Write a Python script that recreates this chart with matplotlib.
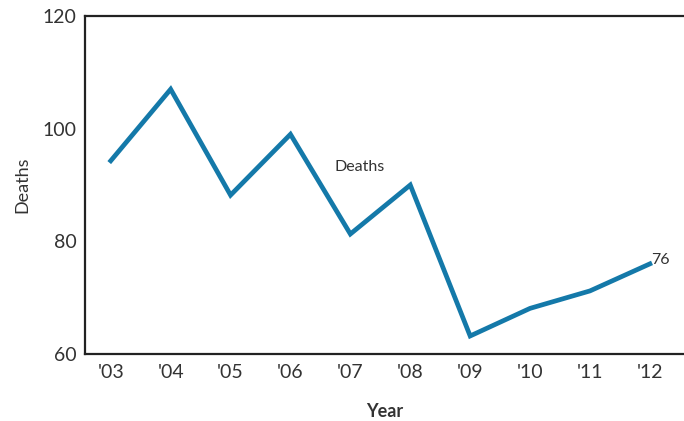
import matplotlib
matplotlib.use("Agg")
import matplotlib.pyplot as plt

years = ["'03", "'04", "'05", "'06", "'07", "'08", "'09", "'10", "'11", "'12"]
deaths = [94.3, 107.0, 88.2, 99.0, 81.3, 90.0, 63.2, 68.1, 71.2, 76]
y_ticks = [60, 80, 100, 120]

plt.rcParams['font.family'] = ['Lato', 'DejaVu Sans']

fig = plt.figure(figsize=(6.84, 4.21), dpi=100)
ax = fig.add_axes([85 / 684, 1 - 354 / 421, (684 - 85) / 684, (354 - 16) / 421])

x = list(range(len(years)))
ax.plot(x, deaths, color="#1479a9", linewidth=3.4, solid_joinstyle="miter")

ax.set_xlim(-0.43, 9.57)
ax.set_ylim(60, 120)
ax.set_xticks(x)
ax.set_xticklabels(years)
ax.set_yticks(y_ticks)
ax.tick_params(axis="both", length=0, labelsize=14, colors="#333333")
ax.tick_params(axis="x", pad=7)
ax.tick_params(axis="y", pad=6)

for side in ["left", "bottom", "top"]:
    ax.spines[side].set_color("#222222")
    ax.spines[side].set_linewidth(1.6)
ax.spines["right"].set_visible(False)

ax.set_ylabel("Deaths", fontsize=13, color="#333333", labelpad=9)
ax.set_xlabel("Year", fontsize=13, fontweight="bold", color="#333333", labelpad=16)

ax.text(4.16, 93.2, "Deaths", fontsize=11.5, color="#333333", ha="center", va="center")
ax.text(x[-1] + 0.02, deaths[-1] - 0.6, f"{deaths[-1]}", fontsize=11.5, color="#333333",
        ha="left", va="bottom")

fig.savefig("out.png", dpi=100)
